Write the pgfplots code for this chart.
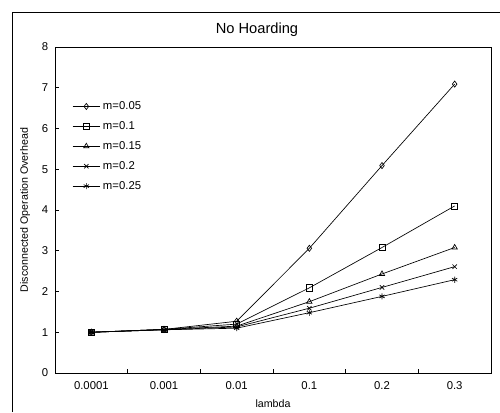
\documentclass[border=0pt]{standalone}
\usepackage{pgfplots}
\pgfplotsset{compat=1.18}
\usepackage{fontspec}
\setmainfont{Liberation Sans}
\begin{document}
\begin{tikzpicture}
\useasboundingbox (0,0) rectangle (375pt,309pt);
\draw[line width=0.7pt] (9pt,0pt) -- (9pt,300pt) -- (375pt,300pt);
\node[font=\fontsize{11}{13}\selectfont] at (192.75pt,286.5pt) {No Hoarding};
\begin{axis}[
  at={(41.25pt,29.25pt)}, anchor=south west, scale only axis,
  width=327pt, height=244.5pt,
  xmin=-0.5, xmax=5.5, ymin=0, ymax=8,
  xtick={0,1,2,3,4,5},
  xticklabels={0.0001,0.001,0.01,0.1,0.2,0.3},
  minor xtick={0.5,1.5,2.5,3.5,4.5},
  ytick={0,1,...,8},
  tick align=inside,
  major x tick style={draw=none},
  xtick pos=bottom, ytick pos=left,
  major tick length=3pt, minor tick length=3pt,
  tick style={black, line width=0.5pt},
  axis line style={line width=0.6pt},
  ticklabel style={font=\fontsize{8.5}{9}\selectfont},
  xticklabel style={yshift=-3pt},
  yticklabel style={xshift=-1.5pt},
  /pgf/number format/assume math mode=true,
  xlabel={lambda}, ylabel={Disconnected Operation Overhead},
  label style={font=\fontsize{8}{10}\selectfont},
  xlabel style={yshift=-1pt},
  ylabel style={yshift=2pt},
  legend style={draw=none, fill=none, at={(0.03,0.85)}, anchor=north west,
    font=\fontsize{8.5}{10}\selectfont, row sep=3.5pt},
  legend cell align=left,
  legend image code/.code={\draw[mark repeat=2,mark phase=2] plot coordinates {(0cm,0cm) (0.36cm,0cm) (0.72cm,0cm)};},
  every axis plot/.append style={black, line width=0.5pt, mark size=2.3pt, mark options={solid, fill=white}},
]
\addplot[mark=diamond] coordinates {(0,1.0) (1,1.07) (2,1.27) (3,3.06) (4,5.09) (5,7.09)};
\addlegendentry{m=0.05}
\addplot[mark=square] coordinates {(0,1.0) (1,1.07) (2,1.2) (3,2.09) (4,3.08) (5,4.1)};
\addlegendentry{m=0.1}
\addplot[mark=triangle] coordinates {(0,1.0) (1,1.07) (2,1.15) (3,1.75) (4,2.43) (5,3.08)};
\addlegendentry{m=0.15}
\addplot[mark=x] coordinates {(0,1.0) (1,1.06) (2,1.13) (3,1.59) (4,2.1) (5,2.61)};
\addlegendentry{m=0.2}
\addplot[mark=asterisk] coordinates {(0,1.0) (1,1.06) (2,1.1) (3,1.48) (4,1.88) (5,2.29)};
\addlegendentry{m=0.25}
\end{axis}
\end{tikzpicture}
\end{document}
